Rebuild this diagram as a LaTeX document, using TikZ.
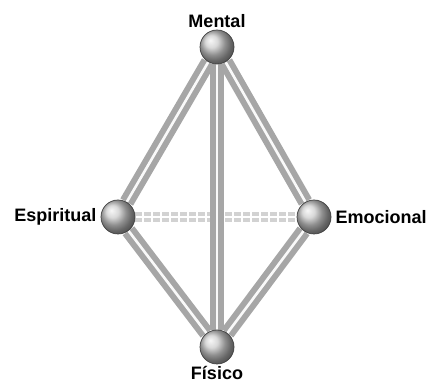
\documentclass[tikz,border=0pt]{standalone}
\usepackage{fontspec}
\setmainfont{Liberation Sans}
\usetikzlibrary{positioning,backgrounds}

\begin{document}
\begin{tikzpicture}[x=1pt,y=1pt,
  ball/.style={circle,shading=ball,ball color=gray!40,draw=gray!50!black,
               line width=0.7pt,minimum size=34pt,inner sep=0pt},
  lbl/.style={font=\fontsize{18}{18}\selectfont\bfseries,inner sep=1pt},
  rod/.style={draw=gray!70,line width=6pt,double=gray!5,double distance=2.6pt},
  dashrod/.style={draw=gray!35,line width=4pt,double=white,double distance=2pt,
                  dash pattern=on 7pt off 2pt}
]
\useasboundingbox (0,0) rectangle (431,385);
\node[ball] (mental) at (217,338) {};
\node[ball] (espir)  at (118,168) {};
\node[ball] (emoc)   at (314,168) {};
\node[ball] (fisico) at (217,38)  {};

\node[lbl,above=1pt of mental] (tm) {Mental};
\node[lbl,left=3pt of espir]   (te) {Espiritual};
\node[lbl,right=3pt of emoc]   (tc) {Emocional};
\node[lbl,below=1pt of fisico] (tf) {Físico};

\begin{scope}[on background layer]
\draw[dashrod] (espir) -- (emoc);
\draw[rod] (mental) -- (espir);
\draw[rod] (mental) -- (emoc);
\draw[rod] (mental) -- (fisico);
\draw[rod] (espir) -- (fisico);
\draw[rod] (emoc) -- (fisico);
\end{scope}
\end{tikzpicture}
\end{document}
